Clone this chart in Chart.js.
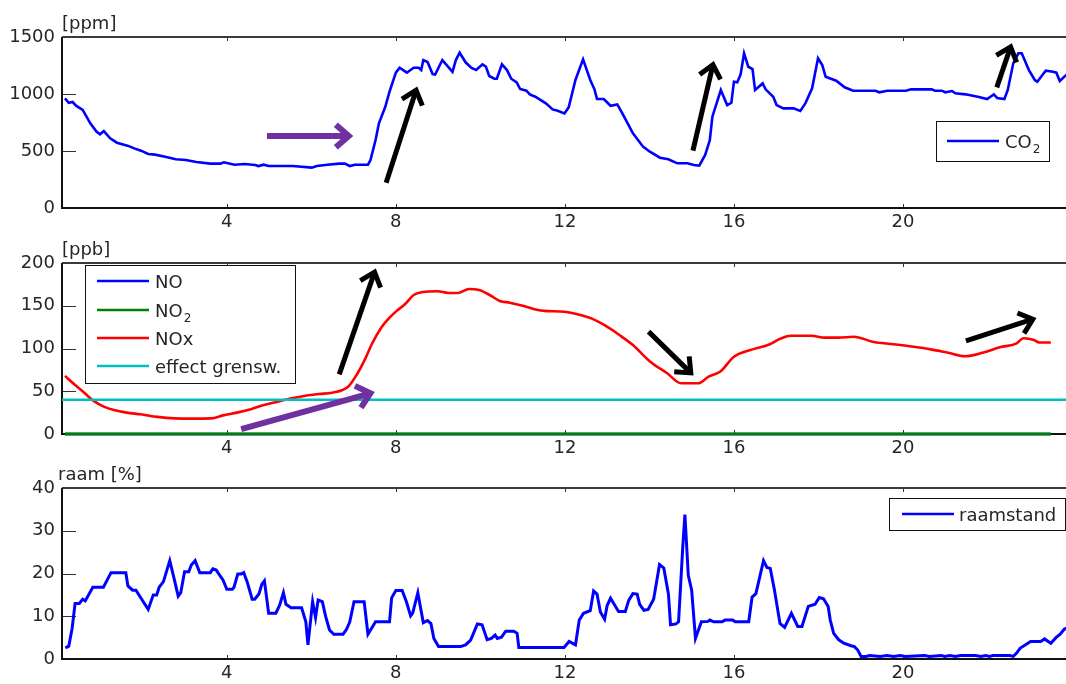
<!DOCTYPE html>
<html><head><meta charset="utf-8">
<script src="https://cdn.jsdelivr.net/npm/chart.js@4.4.1/dist/chart.umd.min.js"></script>
<style>
html,body{margin:0;padding:0;background:#fff;overflow:hidden;width:1066px;height:684px;}
canvas{position:absolute;left:0;}
</style></head><body>
<canvas id="c1" width="1080" height="236" style="top:0px"></canvas>
<canvas id="c2" width="1080" height="226" style="top:236px"></canvas>
<canvas id="c3" width="1080" height="222" style="top:462px"></canvas>
<script>
// ---------- data ----------
const xTickValues = [4, 8, 12, 16, 20];
const xTickLabels = ['4', '8', '12', '16', '20'];

const co2Ticks = [0, 500, 1000, 1500];
const noxTicks = [0, 50, 100, 150, 200];
const raamTicks = [0, 10, 20, 30, 40];

const co2Hours = [0.17,0.26,0.35,0.44,0.59,0.77,0.92,1.0,1.09,1.24,
  1.40,1.65,1.81,1.97,2.14,2.30,2.54,2.79,3.03,3.28,
  3.61,3.85,3.93,4.18,4.42,4.67,4.75,4.87,4.99,5.56,
  6.01,6.13,6.38,6.66,6.79,6.91,7.03,7.34,7.40,7.52,
  7.60,7.75,7.85,8.0,8.09,8.26,8.42,8.54,8.6,8.65,
  8.75,8.87,8.93,9.1,9.34,9.42,9.51,9.65,9.79,9.9,
  10.05,10.13,10.21,10.33,10.39,10.51,10.63,10.73,10.86,10.94,
  11.09,11.17,11.3,11.43,11.55,11.71,11.83,11.99,12.09,12.25,
  12.43,12.60,12.7,12.76,12.92,13.08,13.24,13.36,13.61,13.85,
  14.01,14.25,14.45,14.66,14.9,15.05,15.18,15.32,15.43,15.49,
  15.59,15.69,15.84,15.94,16.0,16.08,16.16,16.24,16.34,16.44,
  16.5,16.68,16.75,16.93,17.01,17.17,17.41,17.57,17.69,17.85,
  17.99,18.09,18.17,18.42,18.62,18.82,19.35,19.44,19.63,20.07,
  20.19,20.68,20.76,20.92,21.0,21.16,21.24,21.48,21.77,21.99,
  22.15,22.23,22.4,22.48,22.61,22.73,22.81,22.98,23.12,23.18,
  23.3,23.38,23.55,23.63,23.71,23.86,23.95];
const co2Values = [962,923,930,895,860,743,669,646,675,611,
  573,547,523,503,474,468,450,427,421,403,
  389,389,401,380,386,377,368,380,368,368,
  354,368,380,389,389,368,380,380,421,596,
  743,888,1020,1187,1230,1187,1230,1230,1210,1298,
  1280,1175,1170,1298,1195,1298,1362,1278,1228,1210,
  1260,1240,1158,1134,1134,1260,1210,1134,1102,1044,
  1029,997,976,947,918,865,853,830,883,1123,
  1304,1123,1041,956,956,897,909,830,655,538,
  494,441,427,392,392,377,371,465,596,801,
  918,1035,903,923,1108,1102,1175,1357,1239,1219,
  1035,1093,1041,976,903,874,874,851,918,1050,
  1313,1254,1152,1117,1059,1029,1029,1015,1029,1029,
  1041,1041,1029,1029,1015,1026,1006,997,976,956,
  997,965,956,1035,1269,1357,1357,1210,1123,1108,
  1166,1204,1195,1187,1114,1166,1175];

const noxHours = [0.17,0.37,0.64,0.84,1.09,1.33,1.63,1.96,2.36,2.77,
  3.18,3.63,3.91,4.24,4.57,4.88,5.2,5.53,5.86,6.18,
  6.5,6.87,7.07,7.28,7.44,7.65,7.85,8.02,8.22,8.42,
  8.63,8.99,9.24,9.48,9.73,9.97,10.22,10.46,10.7,11.03,
  11.36,11.52,11.99,12.39,12.64,12.96,13.29,13.61,14.02,14.42,
  14.75,15.15,15.4,15.68,16.0,16.37,16.85,17.06,17.34,17.83,
  18.15,18.47,18.84,19.28,19.77,20.26,20.66,21.07,21.47,21.88,
  22.29,22.69,22.85,23.1,23.22,23.5];
const noxValues = [68,59,47.6,39,32,28,25,23,20,18.3,
  18,18.3,21.8,25,29,34,37.8,41.7,44.8,46.8,
  48.3,55.3,69,88.5,106,124,136,144,152,162.6,
  166,167,165,165,169.6,168.4,162.6,155.6,153.6,149.7,
  145,144,143,139,135,126.7,115.8,104,84.6,71,
  59.3,59.3,67,73,90.4,98,105,110.7,115,115,
  112.7,112.7,113.8,108,105,102,99,95,91,95,
  101.4,106,112,110,107,107];

const noHours = [0.17, 23.5];
const noValues = [0, 0];
const no2Hours = [0.17, 23.5];
const no2Values = [0, 0];
const limitHours = [0.1, 24];
const limitValues = [40, 40];

const raamHours = [0.18,0.26,0.34,0.41,0.51,0.59,0.65,0.83,1.08,1.26,
  1.61,1.66,1.77,1.85,1.97,2.14,2.26,2.34,2.40,2.50,
  2.65,2.75,2.85,2.91,3.00,3.10,3.16,3.25,3.36,3.61,
  3.67,3.75,3.85,3.91,4.00,4.13,4.17,4.26,4.34,4.40,
  4.48,4.60,4.66,4.76,4.83,4.89,4.99,5.16,5.25,5.34,
  5.40,5.52,5.77,5.87,5.92,6.03,6.10,6.16,6.26,6.34,
  6.43,6.53,6.75,6.83,6.91,7.01,7.25,7.34,7.52,7.85,
  7.90,8.00,8.15,8.25,8.35,8.40,8.52,8.65,8.75,8.83,
  8.90,9.01,9.53,9.65,9.77,9.93,10.04,10.16,10.26,10.35,
  10.40,10.50,10.60,10.79,10.87,10.91,11.98,12.10,12.25,12.34,
  12.44,12.60,12.68,12.76,12.84,12.94,13.00,13.08,13.27,13.43,
  13.51,13.61,13.71,13.77,13.87,13.97,14.10,14.24,14.34,14.45,
  14.50,14.63,14.69,14.79,14.84,14.92,15.00,15.09,15.23,15.39,
  15.43,15.52,15.72,15.79,15.97,16.03,16.35,16.43,16.52,16.70,
  16.78,16.86,16.96,17.09,17.20,17.36,17.51,17.61,17.76,17.92,
  18.02,18.12,18.23,18.28,18.36,18.48,18.60,18.77,18.85,18.93,
  19.01,19.13,19.21,19.46,19.62,19.78,19.94,20.06,20.51,20.63,
  20.91,20.99,21.11,21.24,21.36,21.72,21.84,21.96,22.05,22.13,
  22.53,22.61,22.69,22.77,23.02,23.26,23.35,23.50,23.62,23.72,
  23.82,23.95];
const raamValues = [2.6,3.0,7.2,13.0,13.0,14.0,13.6,16.8,16.8,20.2,
  20.2,17.1,16.1,16.1,14.2,11.6,15.0,15.0,16.8,18.1,
  23.0,18.9,14.7,15.5,20.4,20.4,22.0,23.0,20.2,20.2,
  21.1,20.8,19.3,18.5,16.3,16.3,16.8,19.9,19.9,20.2,
  18.1,14.0,14.0,15.2,17.5,18.3,10.7,10.7,12.6,15.5,
  12.8,12.0,12.0,8.7,3.3,13.4,9.7,13.8,13.4,9.9,
  6.8,5.8,5.8,6.9,8.7,13.4,13.4,5.8,8.7,8.7,
  14.3,16.0,16.0,13.4,10.1,10.8,15.5,8.5,9.0,8.3,
  4.8,2.9,2.9,3.3,4.4,8.2,8.0,4.5,4.8,5.6,
  4.8,5.1,6.5,6.5,6.0,2.7,2.7,4.1,3.3,9.1,
  10.7,11.3,15.9,15.2,11.0,9.3,12.5,14.2,11.1,11.1,
  13.7,15.3,15.2,12.8,11.4,11.6,14.0,22.1,21.3,15.2,
  8.0,8.2,8.7,26.3,33.8,19.6,16.1,4.8,8.7,8.8,
  9.1,8.7,8.7,9.1,9.1,8.7,8.7,14.5,15.3,23.0,
  21.4,21.2,16.1,8.3,7.4,10.7,7.6,7.6,12.3,12.8,
  14.4,14.1,12.3,9.1,6.0,4.5,3.7,3.1,2.9,2.1,
  0.6,0.6,0.8,0.6,0.8,0.6,0.8,0.6,0.8,0.6,
  0.8,0.6,0.8,0.6,0.8,0.8,0.6,0.8,0.6,0.8,
  0.8,0.6,1.4,2.5,4.1,4.1,4.7,3.7,5.0,5.8,
  7.0,7.5];

// ---------- helpers ----------
const FONT = 'DejaVu Sans';
const TXT = '#262626';
const PURPLE = '#7030A0';
const pts = (xs, ys) => xs.map((x, i) => ({x: x, y: ys[i]}));

function line(label, xs, ys, color, width, order, smooth) {
  const d = {label: label, data: pts(xs, ys), borderColor: color, backgroundColor: color,
    borderWidth: width, pointRadius: 0, tension: 0, fill: false, order: order, clip: false};
  if (smooth) d.cubicInterpolationMode = 'monotone';
  return d;
}

function drawArrow(ctx, x0, y0, x1, y1, color, width, head) {
  const ang = Math.atan2(y1 - y0, x1 - x0);
  ctx.save();
  ctx.strokeStyle = color; ctx.lineWidth = width; ctx.lineCap = 'butt'; ctx.lineJoin = 'miter';
  ctx.beginPath(); ctx.moveTo(x0, y0);
  ctx.lineTo(x1 - Math.cos(ang) * width * 0.6, y1 - Math.sin(ang) * width * 0.6); ctx.stroke();
  const a = 0.6;
  ctx.beginPath();
  ctx.moveTo(x1 - head * Math.cos(ang - a), y1 - head * Math.sin(ang - a));
  ctx.lineTo(x1 - Math.cos(ang) * width * 0.6, y1 - Math.sin(ang) * width * 0.6);
  ctx.lineTo(x1 - head * Math.cos(ang + a), y1 - head * Math.sin(ang + a));
  ctx.stroke();
  ctx.restore();
}

function drawSubText(ctx, text, x, y) {
  const parts = text.split('_');
  ctx.font = '18px "' + FONT + '"';
  ctx.textBaseline = 'middle'; ctx.textAlign = 'left'; ctx.fillStyle = TXT;
  ctx.fillText(parts[0], x, y);
  if (parts.length > 1) {
    const w = ctx.measureText(parts[0]).width;
    ctx.font = '12px "' + FONT + '"';
    ctx.fillText(parts[1], x + w + 1, y + 7);
  }
}

const decor = {
  id: 'decor',
  beforeDatasetsDraw(chart, args, o) {
    const ctx = chart.ctx, a = chart.chartArea;
    const xs = chart.scales.x, ys = chart.scales.y;
    ctx.save();
    ctx.lineWidth = 1;
    ctx.strokeStyle = '#333';
    xTickValues.forEach(v => {
      const px = Math.round(xs.getPixelForValue(v)) + 0.5;
      ctx.beginPath(); ctx.moveTo(px, a.bottom); ctx.lineTo(px, a.bottom - 4);
      ctx.moveTo(px, a.top); ctx.lineTo(px, a.top + 4); ctx.stroke();
    });
    o.yTicks.forEach(v => {
      const py = Math.round(ys.getPixelForValue(v)) + 0.5;
      ctx.beginPath(); ctx.moveTo(a.left, py); ctx.lineTo(a.left + 14, py); ctx.stroke();
    });
    ctx.lineWidth = 2;
    ctx.strokeStyle = '#3a3a3a';
    ctx.beginPath(); ctx.moveTo(a.left, a.top); ctx.lineTo(a.right, a.top); ctx.stroke();
    ctx.strokeStyle = '#111';
    ctx.beginPath(); ctx.moveTo(a.left, a.top); ctx.lineTo(a.left, a.bottom); ctx.lineTo(a.right, a.bottom); ctx.stroke();
    ctx.restore();
  },
  afterDatasetsDraw(chart, args, o) {
    const ctx = chart.ctx;
    const xs = chart.scales.x, ys = chart.scales.y;
    ctx.save();
    ctx.font = '18px "' + FONT + '"';
    ctx.fillStyle = TXT; ctx.textAlign = 'left'; ctx.textBaseline = 'alphabetic';
    ctx.fillText(o.unit, o.unitX, o.unitY - o.off);
    (o.arrows || []).forEach(ar => {
      drawArrow(ctx, xs.getPixelForValue(ar.from[0]), ys.getPixelForValue(ar.from[1]),
        xs.getPixelForValue(ar.to[0]), ys.getPixelForValue(ar.to[1]),
        ar.color, ar.width, ar.head);
    });
    const L = o.legend;
    ctx.fillStyle = '#fff';
    ctx.fillRect(L.box[0], L.box[1] - o.off, L.box[2], L.box[3]);
    ctx.strokeStyle = '#111'; ctx.lineWidth = 1;
    ctx.strokeRect(L.box[0] + 0.5, L.box[1] - o.off + 0.5, L.box[2], L.box[3]);
    L.rows.forEach(r => {
      const ds = chart.data.datasets[r.ds];
      const y = r.y - o.off;
      ctx.strokeStyle = ds.borderColor; ctx.lineWidth = 2.6;
      ctx.beginPath(); ctx.moveTo(L.line[0], y); ctx.lineTo(L.line[1], y); ctx.stroke();
      drawSubText(ctx, ds.label, L.textX, y + 2);
    });
    ctx.restore();
  }
};

function makePanel(id, datasets, yTicks, padTop, xH, decorOpts) {
  return new Chart(document.getElementById(id), {
    type: 'line',
    data: {datasets: datasets},
    plugins: [decor],
    options: {
      responsive: false, animation: false, devicePixelRatio: 1,
      layout: {padding: {top: padTop, right: 8, left: 0, bottom: 0}},
      plugins: {legend: {display: false}, tooltip: {enabled: false}, decor: decorOpts},
      scales: {
        x: {type: 'linear', min: 0.1, max: 24,
          afterBuildTicks: s => { s.ticks = xTickValues.map(v => ({value: v})); },
          afterFit: s => { s.height = xH; },
          grid: {display: false, drawTicks: false}, border: {display: false},
          ticks: {font: {family: FONT, size: 18}, color: TXT, padding: 4, maxRotation: 0, autoSkip: false,
            callback: v => xTickLabels[xTickValues.indexOf(v)]}},
        y: {type: 'linear', min: yTicks[0], max: yTicks[yTicks.length - 1],
          afterBuildTicks: s => { s.ticks = yTicks.map(v => ({value: v})); },
          afterFit: s => { s.width = 62; },
          grid: {display: false, drawTicks: false}, border: {display: false},
          ticks: {font: {family: FONT, size: 18}, color: TXT, padding: 7, autoSkip: false,
            callback: v => String(v)}}
      }
    }
  });
}

makePanel('c1', [line('CO_2', co2Hours, co2Values, '#0000FF', 2.6, 0)], co2Ticks, 37, 28, {
  off: 0, yTicks: co2Ticks, unit: '[ppm]', unitX: 62, unitY: 29,
  arrows: [
    {from: [4.95, 631], to: [6.97, 631], color: PURPLE, width: 6, head: 20},
    {from: [7.77, 222], to: [8.50, 1058], color: '#000', width: 5, head: 19},
    {from: [15.03, 503], to: [15.52, 1283], color: '#000', width: 5, head: 19},
    {from: [22.22, 1058], to: [22.57, 1438], color: '#000', width: 5, head: 19}
  ],
  legend: {box: [936, 121, 113, 40], rows: [{ds: 0, y: 141}], line: [947, 999], textX: 1005}
});

makePanel('c2', [
  line('NO', noHours, noValues, '#0000FF', 2.6, 3),
  line('NO_2', no2Hours, no2Values, '#008000', 3, 2),
  line('NOx', noxHours, noxValues, '#FF0000', 2.6, 1, true),
  line('effect grensw.', limitHours, limitValues, '#00BFBF', 2.6, 0)
], noxTicks, 27, 28, {
  off: 236, yTicks: noxTicks, unit: '[ppb]', unitX: 62, unitY: 255,
  arrows: [
    {from: [6.66, 69.8], to: [7.52, 192.6], color: '#000', width: 5, head: 19},
    {from: [4.34, 5.8], to: [7.48, 48.7], color: PURPLE, width: 6, head: 20},
    {from: [13.98, 119.7], to: [15.03, 69], color: '#000', width: 5, head: 19},
    {from: [21.49, 108.8], to: [23.14, 135.3], color: '#000', width: 5, head: 19}
  ],
  legend: {box: [85, 265, 210, 118], rows: [{ds: 0, y: 281}, {ds: 1, y: 310}, {ds: 2, y: 338}, {ds: 3, y: 366}],
    line: [97, 149], textX: 155}
});

makePanel('c3', [line('raamstand', raamHours, raamValues, '#0000FF', 3, 0)], raamTicks, 26, 25, {
  off: 462, yTicks: raamTicks, unit: 'raam [%]', unitX: 58, unitY: 480,
  legend: {box: [889, 498, 176, 32], rows: [{ds: 0, y: 514}], line: [902, 954], textX: 959}
});
</script>
</body></html>
